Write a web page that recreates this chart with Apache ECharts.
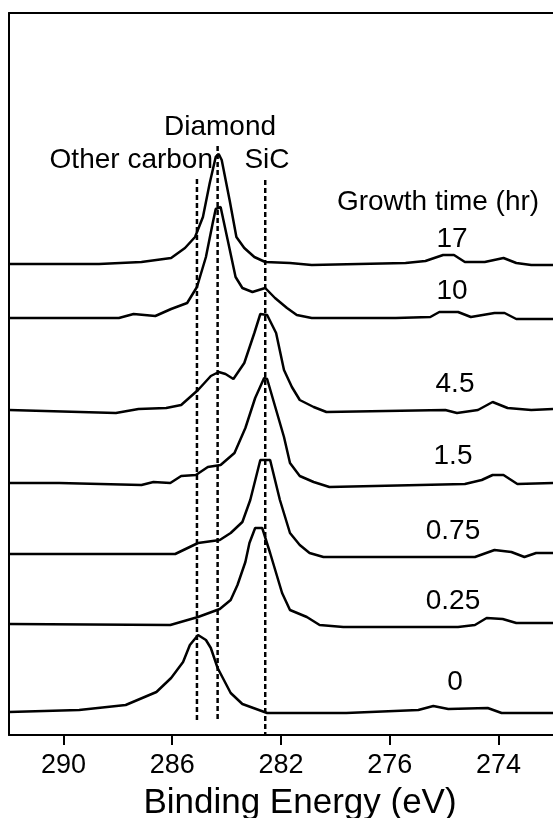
<!DOCTYPE html>
<html>
<head>
<meta charset="utf-8">
<script src="https://cdn.jsdelivr.net/npm/echarts@6/dist/echarts.min.js"></script>
<style>
  html, body { margin: 0; padding: 0; background: #fff; }
  #chart { width: 553px; height: 818px; }
</style>
</head>
<body>
<div id="chart"></div>
<script>
// spectra: [binding energy (eV), stacked intensity (a.u.)]
const s17 = [[292.00,471],[288.69,471],[287.13,473],[286.04,477],[285.53,487],[285.16,498],[284.87,518],[284.62,552],[284.40,578],[284.29,581],[284.18,575],[283.89,535],[283.64,498],[283.35,487],[282.98,478],[282.58,473],[281.67,472],[280.87,470],[277.42,472],[276.69,474],[276.04,480],[275.64,480],[275.24,473],[274.51,473],[273.82,477],[273.35,472],[272.80,470],[272.00,470]];
const s10 = [[292.00,417],[287.96,417],[287.42,421],[286.62,419],[286.04,426],[285.45,432],[285.09,448],[284.76,478],[284.51,512],[284.40,526],[284.22,528],[283.96,495],[283.67,458],[283.42,447],[283.05,443],[282.58,447],[282.22,437],[281.78,427],[281.42,420],[280.87,417],[277.78,417],[276.51,418],[276.18,423],[275.49,423],[275.02,418],[274.15,422],[273.78,422],[273.35,416],[272.00,416]];
const s4_5 = [[292.00,325],[288.07,322],[287.24,326],[286.22,327],[285.67,330],[285.05,345],[284.58,359],[284.29,363],[284.04,361],[283.75,356],[283.35,372],[282.98,402],[282.76,421],[282.51,420],[282.18,402],[281.89,365],[281.60,348],[281.31,335],[280.80,328],[280.33,323],[275.96,325],[275.53,322],[274.76,325],[274.22,333],[273.67,327],[272.80,325],[272.00,326]];
const s1_5 = [[292.00,252],[290.15,252],[287.13,250],[286.69,253],[286.07,252],[285.67,259],[285.13,260],[284.69,268],[284.22,270],[283.71,282],[283.31,307],[282.95,337],[282.62,357],[282.51,356],[281.89,298],[281.67,272],[281.31,259],[280.80,253],[280.22,248],[275.24,251],[274.62,255],[274.22,260],[273.82,260],[273.31,251],[272.00,252]];
const s0_75 = [[292.00,181],[285.89,181],[285.05,192],[284.25,195],[283.85,202],[283.42,213],[283.13,235],[282.76,275],[282.40,275],[282.04,235],[281.67,202],[281.31,190],[280.95,182],[280.44,178],[274.87,178],[274.15,185],[273.53,183],[273.05,178],[272.62,182],[272.00,182]];
const s0_25 = [[292.00,111],[286.07,110],[285.05,118],[284.25,126],[283.85,135],[283.60,150],[283.31,173],[283.16,192],[282.95,207],[282.69,207],[282.40,182],[281.96,142],[281.67,125],[281.05,118],[280.58,110],[279.71,108],[275.49,108],[274.87,110],[274.44,117],[273.85,116],[273.35,112],[272.00,112]];
const s0 = [[292.00,23],[289.42,25],[287.71,30],[286.58,43],[286.04,57],[285.60,73],[285.35,90],[285.05,100],[284.76,95],[284.58,87],[284.33,67],[283.85,42],[283.42,31],[282.51,22],[279.60,22],[276.95,25],[276.40,29],[275.85,26],[274.40,27],[273.89,22],[272.00,22]];

const spectra = [s17, s10, s4_5, s1_5, s0_75, s0_25, s0];
const growthTimes = ['17', '10', '4.5', '1.5', '0.75', '0.25', '0'];

// reference peak positions: [name, energy, top, bottom]
const refLines = [
    ['Other carbon', 285.09, 556, 13],
    ['Diamond', 284.33, 589, 15],
    ['SiC', 282.58, 555, 0]
];

const tickValues = [290, 286, 282, 278, 274];
const tickLabels = ['290', '286', '282', '276', '274'];

const font = 'Liberation Sans, Arial, Helvetica, sans-serif';

const chart = echarts.init(document.getElementById('chart'));

const series = spectra.map((d, i) => ({
    name: growthTimes[i],
    type: 'line',
    data: d,
    symbol: 'none',
    lineStyle: { color: '#000', width: 2.5 },
    z: 3
})).concat(refLines.map(r => ({
    name: r[0],
    type: 'line',
    data: [[r[1], r[2]], [r[1], r[3]]],
    symbol: 'none',
    lineStyle: { color: '#000', width: 2.5, type: [5, 3] },
    z: 2
})));

// text placed in pixels
const labelPos = [[452, 239], [452, 291], [455, 384], [453, 456], [453, 531], [453, 601], [455, 682]];
const txt = (text, x, y, size, align) => ({
    type: 'text', x: x, y: y,
    style: { text: text, font: size + 'px ' + font, fill: '#000', align: align || 'center', verticalAlign: 'middle' }
});
const graphic = growthTimes.map((t, i) => txt(t, labelPos[i][0], labelPos[i][1], 28)).concat([
    txt('Growth time (hr)', 438, 202, 28),
    txt('Diamond', 220, 127, 28),
    txt('Other carbon', 213, 160, 28, 'right'),
    txt('SiC', 267, 160, 28),
    txt('Binding Energy (eV)', 300, 803, 35)
]);

const axisLine = { show: true, lineStyle: { color: '#000', width: 2 } };

const option = {
    animation: false,
    backgroundColor: '#fff',
    grid: { left: 9, top: 13, width: 550, height: 722 },
    xAxis: [{
        type: 'value',
        inverse: true,
        min: 272,
        max: 292,
        splitLine: { show: false },
        axisLine: axisLine,
        axisTick: { show: true, customValues: tickValues, length: 10, lineStyle: { color: '#000', width: 2 } },
        axisLabel: {
            customValues: tickValues,
            formatter: v => tickLabels[tickValues.indexOf(v)],
            fontSize: 27, fontFamily: font, color: '#000', margin: 17
        }
    }, {
        // top frame line
        type: 'value',
        position: 'top',
        inverse: true,
        min: 272,
        max: 292,
        axisLine: axisLine,
        axisTick: { show: false },
        axisLabel: { show: false },
        splitLine: { show: false }
    }],
    yAxis: {
        type: 'value',
        min: 0,
        max: 722,
        axisLine: axisLine,
        axisTick: { show: false },
        axisLabel: { show: false },
        splitLine: { show: false }
    },
    graphic: graphic,
    series: series
};

chart.setOption(option);
</script>
</body>
</html>
